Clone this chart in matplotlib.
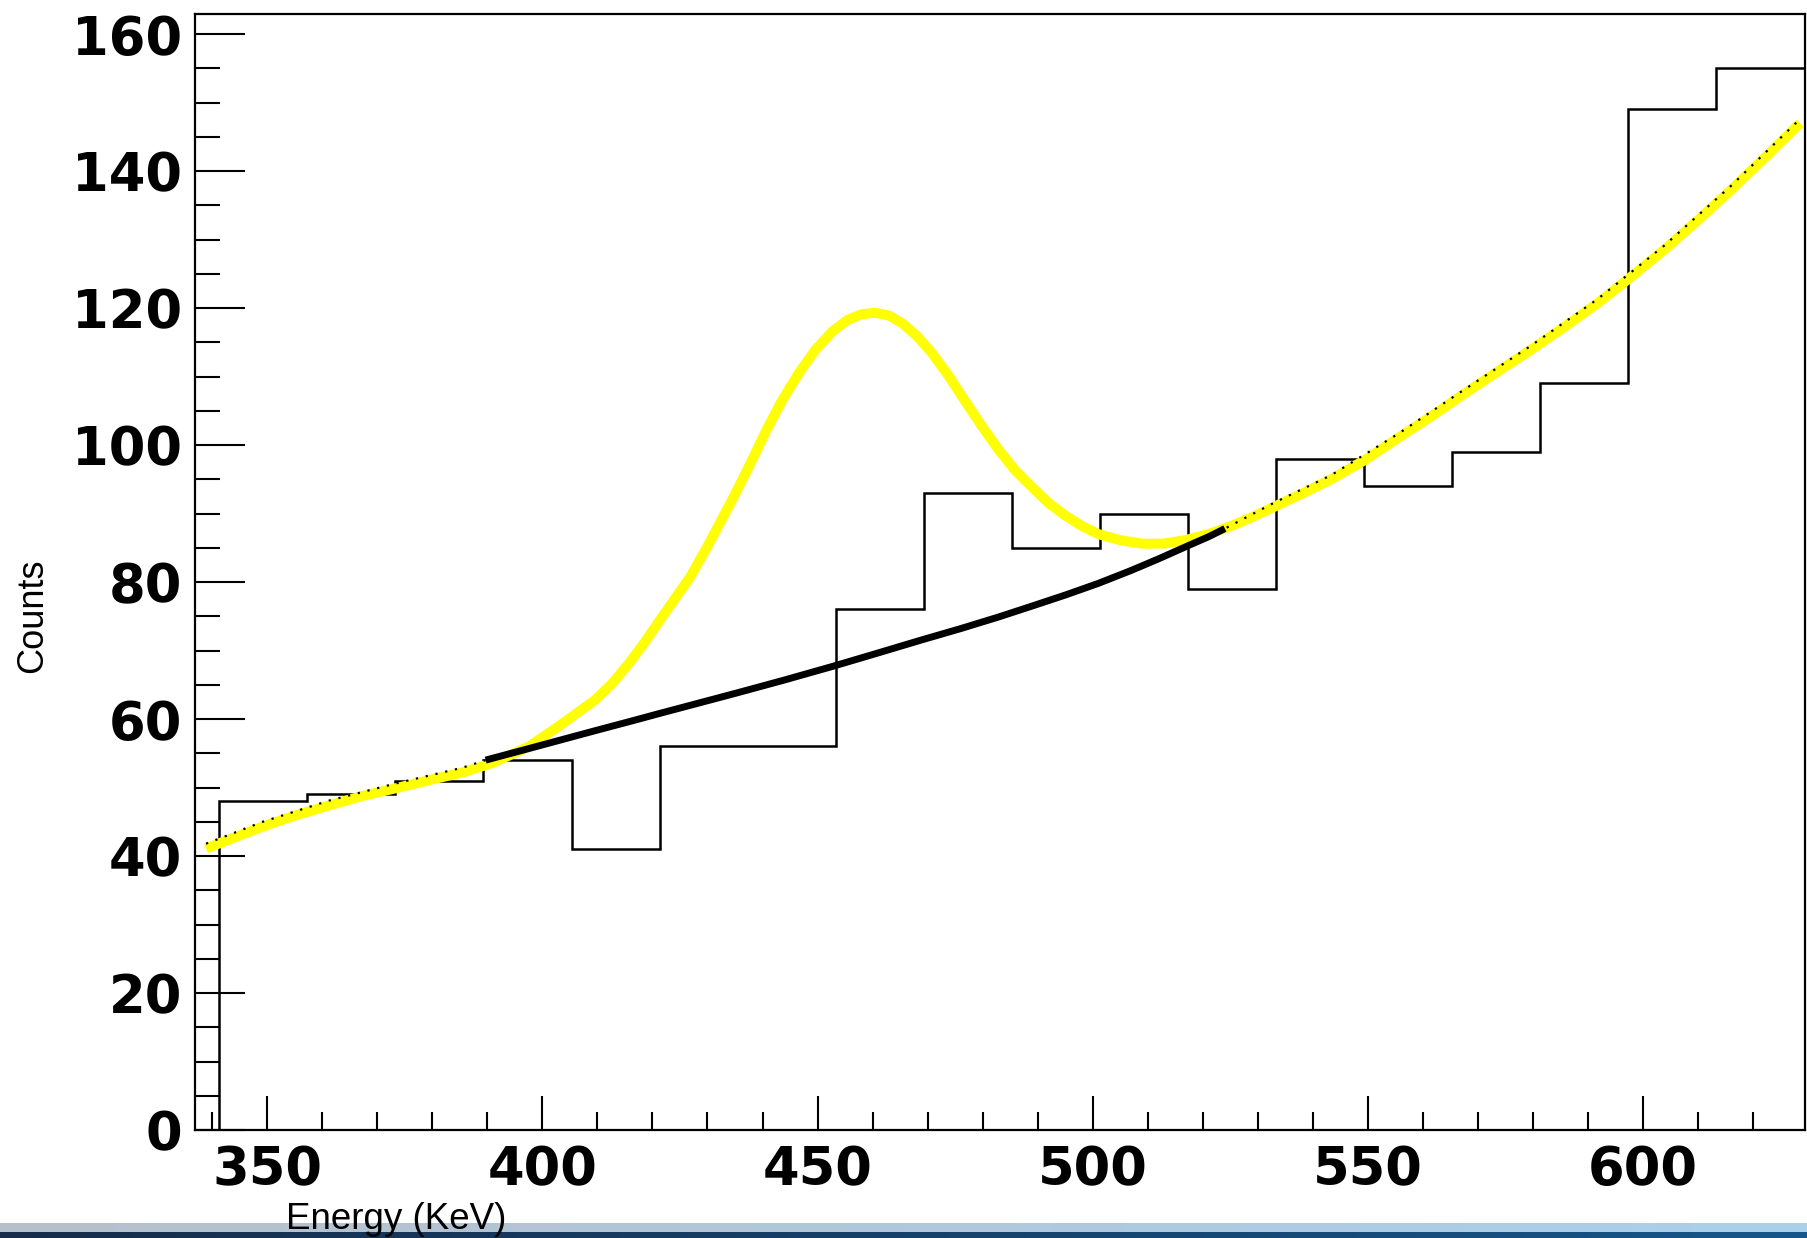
import numpy as np
import matplotlib
matplotlib.use("Agg")
import matplotlib.pyplot as plt
from matplotlib.ticker import MultipleLocator

# histogram (16 keV bins)
bin_edges = [341.3, 357.3, 373.3, 389.3, 405.3, 421.3, 437.3, 453.3, 469.3, 485.3,
             501.3, 517.3, 533.3, 549.3, 565.3, 581.3, 597.3, 613.3, 629.3]
counts = [48, 49, 51, 54, 41, 56, 56, 76, 93, 85, 90, 79, 98, 94, 99, 109, 149, 155]

# total fit (gauss + background)
fit_e = [338.9, 345.0, 349.2, 355.0, 361.3, 367.0, 373.4, 379.0, 385.5, 391.0,
         397.6, 400.5, 403.6, 406.5, 409.6, 412.7, 415.7, 418.5, 421.5, 424.2,
         426.9, 430.0, 432.5, 435.0, 437.8, 440.6, 443.6, 446.6, 449.6, 452.7,
         455.5, 458.0, 460.5, 463.0, 465.5, 468.2, 470.8, 473.8, 476.9, 479.9,
         482.9, 485.9, 488.9, 492.0, 495.0, 498.0, 501.0, 505.0, 508.9, 512.8,
         516.7, 521.0, 525.2, 529.0, 533.0, 538.0, 543.3, 549.4, 555.4, 561.5,
         567.5, 573.5, 579.6, 585.6, 591.7, 597.7, 603.8, 609.9, 615.9, 622.0, 628.5]
fit_c = [41.1, 43.0, 44.3, 45.9, 47.4, 48.7, 49.9, 51.0, 52.2, 53.6,
         56.0, 57.6, 59.3, 61.0, 62.8, 65.2, 68.1, 71.1, 74.6, 77.7,
         80.8, 85.2, 89.0, 92.8, 97.3, 102.0, 106.6, 110.5, 113.9, 116.6,
         118.3, 119.1, 119.3, 118.9, 117.7, 115.8, 113.4, 110.1, 106.3, 102.7,
         99.3, 96.3, 93.9, 91.5, 89.7, 88.2, 87.0, 86.1, 85.6, 85.6,
         86.1, 87.0, 88.2, 89.5, 91.0, 92.9, 95.0, 97.8, 101.0, 104.2,
         107.5, 110.7, 113.9, 117.2, 120.7, 124.5, 128.5, 132.8, 137.2, 141.9, 147.0]

# background: dotted over the whole range, solid inside the fit range
bg_e = [338.9, 349.2, 361.3, 373.4, 385.5, 389.7, 397.6, 403.6, 409.6, 415.7,
        421.7, 427.8, 435.3, 444.0, 452.8, 460.8, 468.7, 476.0, 482.9, 489.0,
        495.0, 501.0, 507.0, 512.0, 517.3, 521.0, 524.0, 533.0, 543.3, 555.4,
        567.5, 579.6, 591.7, 603.8, 615.9, 628.5]
bg_c = [41.8, 45.0, 48.1, 50.6, 52.9, 54.0, 55.7, 57.0, 58.3, 59.6,
        60.9, 62.2, 63.8, 65.7, 67.7, 69.6, 71.5, 73.2, 74.9, 76.5,
        78.1, 79.8, 81.7, 83.4, 85.3, 86.6, 87.8, 91.6, 95.6, 101.6,
        108.1, 114.5, 121.3, 129.1, 137.8, 147.6]
fit_lo, fit_hi = 389.7, 524.0

W, H = 1807, 1238
fig = plt.figure(figsize=(W / 100, H / 100), dpi=100)
ax = fig.add_axes([194.5 / W, (H - 1130) / H, 1610 / W, 1116.5 / H])

ax.stairs(counts, bin_edges, baseline=0, color="black", linewidth=1.8, zorder=2)
ax.plot(fit_e, fit_c, color="#ffff00", linewidth=7.2, solid_capstyle="butt",
        solid_joinstyle="round", zorder=3)
ax.plot(bg_e, bg_c, color="black", linestyle=(0, (1, 3.5)), linewidth=1.6, zorder=4)
bg_in = [(e, c) for e, c in zip(bg_e, bg_c) if fit_lo <= e <= fit_hi]
ax.plot([p[0] for p in bg_in], [p[1] for p in bg_in], color="black", linewidth=5,
        solid_capstyle="butt", solid_joinstyle="round", zorder=5)

ax.set_xlim(336.8, 629.3)
ax.set_ylim(0, 163)

for s in ax.spines.values():
    s.set_linewidth(1.6)

ax.xaxis.set_major_locator(MultipleLocator(50))
ax.xaxis.set_minor_locator(MultipleLocator(10))
ax.yaxis.set_major_locator(MultipleLocator(20))
ax.yaxis.set_minor_locator(MultipleLocator(5))
ax.tick_params(axis="x", which="major", direction="in", length=24.5, width=1.5, pad=10)
ax.tick_params(axis="x", which="minor", direction="in", length=13, width=1.5)
ax.tick_params(axis="y", which="major", direction="in", length=36, width=1.5, pad=9)
ax.tick_params(axis="y", which="minor", direction="in", length=18, width=1.5)
for lab in ax.get_xticklabels() + ax.get_yticklabels():
    lab.set_fontfamily("DejaVu Sans")
    lab.set_fontweight("bold")
    lab.set_fontsize(38)

fig.text(33 / W, 1 - 616 / H, "Counts", rotation=90, ha="center", va="center",
         family="Liberation Sans", fontsize=26)

# screenshot taskbar strip at the bottom
bar = fig.add_axes([0, 0, 1, 15 / H], zorder=0)
n = 300
t = np.linspace(0, 1, n)
light_l, light_r = np.array([182, 192, 204]), np.array([170, 208, 236])
dark_l, dark_r = np.array([22, 44, 74]), np.array([22, 86, 138])
img = np.zeros((15, n, 3))
for r in range(15):
    if r < 9:
        img[r] = (light_l[None, :] * (1 - t[:, None]) + light_r[None, :] * t[:, None]) / 255
    else:
        img[r] = (dark_l[None, :] * (1 - t[:, None]) + dark_r[None, :] * t[:, None]) / 255
bar.imshow(img, aspect="auto", extent=[0, 1, 0, 1])
bar.set_axis_off()

fig.text(396 / W, (H - 1229) / H, "Energy (KeV)", ha="center", va="baseline",
         family="Liberation Sans", fontsize=26.5, zorder=10)

fig.savefig("out.png", dpi=100)
